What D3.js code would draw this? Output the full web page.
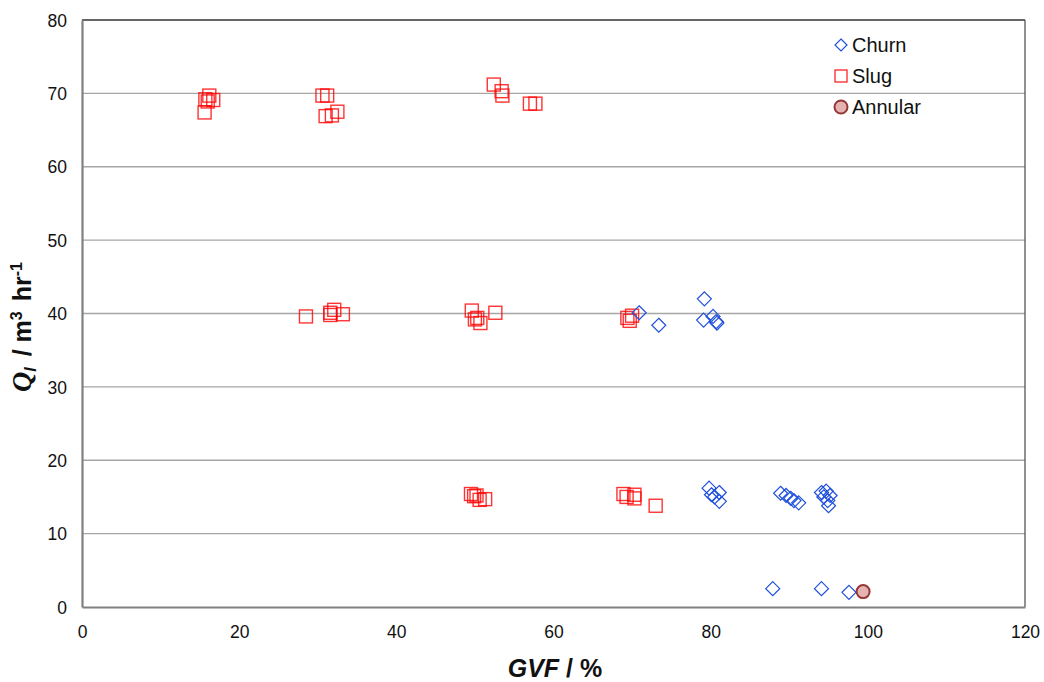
<!DOCTYPE html>
<html>
<head>
<meta charset="utf-8">
<script src="https://cdn.jsdelivr.net/npm/d3@7"></script>
<style>
  body { margin: 0; background: #fff; }
  text { font-family: Arial, "Liberation Sans", sans-serif; }
</style>
</head>
<body>
<svg id="chart"></svg>
<script>
// Regímenes de flujo: GVF (%) contra Q_l (m3/hr)

const svg_w = 1044;
const svg_h = 682;
const margin = {l:82, r:19, t:20, b:75};
const viz_w = svg_w - margin.l - margin.r;
const viz_h = svg_h - margin.t - margin.b;

// datos
const churn_gvf = [70.9, 73.4, 79.2, 79.1, 80.3, 80.7, 80.8,
  79.8, 80.1, 80.5, 81.1, 81.1,
  88.9, 89.6, 90.2, 90.6, 91.2,
  94.1, 94.7, 95.2, 94.4, 94.9, 95.0,
  87.9, 94.1, 97.6];
const churn_ql = [40.1, 38.4, 42.0, 39.1, 39.6, 38.9, 38.7,
  16.2, 15.3, 15.0, 15.6, 14.4,
  15.5, 15.2, 14.8, 14.5, 14.2,
  15.6, 15.8, 15.2, 15.0, 14.5, 13.8,
  2.5, 2.5, 2.0];

const slug_gvf = [15.6, 15.7, 16.2, 16.7, 16.0,
  30.6, 31.2, 31.0, 31.8, 32.5,
  52.4, 53.4, 53.5, 57.0, 57.7,
  28.5, 31.6, 32.1, 33.2, 31.6,
  49.6, 50.0, 50.3, 50.7, 52.6,
  69.4, 69.7, 70.0,
  49.5, 49.9, 50.6, 51.3, 50.2,
  68.9, 69.3, 70.3, 70.3, 73.0];
const slug_ql = [67.4, 69.2, 69.7, 69.1, 68.9,
  69.7, 69.7, 66.9, 67.0, 67.5,
  71.2, 70.3, 69.7, 68.6, 68.6,
  39.6, 39.8, 40.5, 39.9, 40.1,
  40.4, 39.2, 39.4, 38.7, 40.1,
  39.4, 39.0, 39.7,
  15.4, 15.1, 14.6, 14.7, 15.2,
  15.4, 15.0, 15.3, 14.8, 13.8];

const annular_gvf = [99.4];
const annular_ql = [2.1];

const x_ticks = [0, 20, 40, 60, 80, 100, 120];
const y_ticks = [0, 10, 20, 30, 40, 50, 60, 70, 80];
const legend_labels = ["Churn", "Slug", "Annular"];

const svg = d3.select("#chart")
  .attr("width", svg_w)
  .attr("height", svg_h);

const x_scale = d3.scaleLinear().domain([0, 120]).range([0, viz_w]);
const y_scale = d3.scaleLinear().domain([0, 80]).range([viz_h, 0]);

const plot = svg.append("g")
  .attr("transform", `translate(${margin.l},${margin.t})`);

// líneas de la cuadrícula
plot.append("g")
  .selectAll("line")
  .data(y_ticks.filter(d => d > 0 && d < 80))
  .enter().append("line")
  .attr("x1", 0).attr("x2", viz_w)
  .attr("y1", d => y_scale(d)).attr("y2", d => y_scale(d))
  .attr("stroke", "#a6a6a6")
  .attr("stroke-width", 1.3);

// borde superior y derecho
plot.append("line")
  .attr("x1", 0).attr("x2", viz_w).attr("y1", 0).attr("y2", 0)
  .attr("stroke", "#333").attr("stroke-width", 1.3);
plot.append("line")
  .attr("x1", viz_w).attr("x2", viz_w).attr("y1", 0).attr("y2", viz_h)
  .attr("stroke", "#555").attr("stroke-width", 1.3);

// ejes
const x_axis = plot.append("g")
  .attr("transform", `translate(0,${viz_h})`)
  .call(d3.axisBottom(x_scale).tickValues(x_ticks).tickSize(0).tickPadding(19));
const y_axis = plot.append("g")
  .call(d3.axisLeft(y_scale).tickValues(y_ticks).tickSize(0).tickPadding(15));

[x_axis, y_axis].forEach(ax => {
  ax.select(".domain").attr("stroke", "#808080").attr("stroke-width", 2.2);
  ax.selectAll("text")
    .attr("font-size", 17.5)
    .attr("fill", "#111")
    .style("font-family", "Arial, 'Liberation Sans', sans-serif");
});
y_axis.selectAll("text").attr("dy", "0.35em");

// símbolos
const diamond = (g, r) => g.append("path")
  .attr("d", `M0,${-r}L${r},0L0,${r}L${-r},0Z`)
  .attr("fill", "none")
  .attr("stroke", "#1f4fdc")
  .attr("stroke-width", 1.2);
const square = (g, s) => g.append("rect")
  .attr("x", -s/2).attr("y", -s/2).attr("width", s).attr("height", s)
  .attr("fill", "none")
  .attr("stroke", "#ff0000")
  .attr("stroke-opacity", 0.8)
  .attr("stroke-width", 1.4);
const circle = (g, r) => g.append("circle")
  .attr("r", r)
  .attr("fill", "#e6b3b3")
  .attr("stroke", "#953735")
  .attr("stroke-width", 2);

const slug_data = slug_gvf.map((d, i) => ({x: d, y: slug_ql[i]}));
const churn_data = churn_gvf.map((d, i) => ({x: d, y: churn_ql[i]}));
const annular_data = annular_gvf.map((d, i) => ({x: d, y: annular_ql[i]}));

plot.append("g")
  .selectAll("g")
  .data(slug_data)
  .enter().append("g")
  .attr("transform", d => `translate(${x_scale(d.x)},${y_scale(d.y)})`)
  .each(function() { square(d3.select(this), 13); });

plot.append("g")
  .selectAll("g")
  .data(churn_data)
  .enter().append("g")
  .attr("transform", d => `translate(${x_scale(d.x)},${y_scale(d.y)})`)
  .each(function() { diamond(d3.select(this), 7); });

plot.append("g")
  .selectAll("g")
  .data(annular_data)
  .enter().append("g")
  .attr("transform", d => `translate(${x_scale(d.x)},${y_scale(d.y)})`)
  .each(function() { circle(d3.select(this), 6.5); });

// leyenda
const legend = svg.append("g").attr("transform", "translate(841,45)");
const legend_items = legend.selectAll("g")
  .data(legend_labels)
  .enter().append("g")
  .attr("transform", (d, i) => `translate(0,${i * 31})`);
legend_items.each(function(d, i) {
  const g = d3.select(this);
  if (i == 0) diamond(g, 6);
  if (i == 1) square(g, 12);
  if (i == 2) circle(g, 6.5);
});
legend_items.append("text")
  .attr("x", 11)
  .attr("dy", "0.36em")
  .attr("font-size", 20)
  .attr("fill", "#111")
  .text(d => d);

// títulos de los ejes
const x_title = svg.append("text")
  .attr("x", 555)
  .attr("y", 677)
  .attr("text-anchor", "middle")
  .attr("font-size", 25)
  .attr("font-weight", "bold")
  .attr("fill", "#111");
x_title.append("tspan").attr("font-style", "italic").text("GVF");
x_title.append("tspan").text(" / %");

const y_title = svg.append("text")
  .attr("transform", `translate(31,327) rotate(-90)`)
  .attr("text-anchor", "middle")
  .attr("font-size", 25)
  .attr("font-weight", "bold")
  .attr("fill", "#111");
y_title.append("tspan").attr("font-style", "italic")
  .style("font-family", "'Liberation Serif', 'Times New Roman', serif")
  .attr("font-size", 28).text("Q");
y_title.append("tspan").attr("font-style", "italic").attr("font-size", 16).attr("dy", 5).text("l");
y_title.append("tspan").attr("dy", -5).attr("dx", 4).text(" / m");
y_title.append("tspan").attr("font-size", 16).attr("dy", -9).text("3");
y_title.append("tspan").attr("dy", 9).attr("dx", 3).text(" hr");
y_title.append("tspan").attr("font-size", 16).attr("dy", -9).text("-1");
</script>
</body>
</html>
